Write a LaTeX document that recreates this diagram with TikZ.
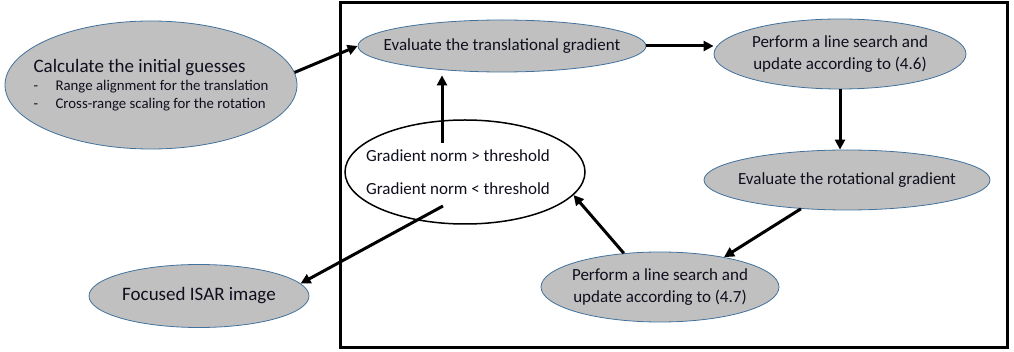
\documentclass[tikz,border=0pt]{standalone}
\usepackage{fontspec}
\setmainfont{Carlito}
\usetikzlibrary{shapes.geometric,arrows.meta}
\definecolor{fillgray}{RGB}{192,192,192}
\definecolor{edgeblue}{RGB}{65,113,156}
\definecolor{txt}{RGB}{15,15,30}
\begin{document}
\begin{tikzpicture}[x=1pt,y=-1pt,
  gnode/.style={ellipse, draw=edgeblue, line width=0.8pt, fill=fillgray,
    inner xsep=-40pt, inner ysep=0pt, text=txt, align=center,
    font=\fontsize{17}{22}\selectfont},
  wnode/.style={ellipse, draw=black, line width=1.5pt, fill=white,
    inner xsep=-40pt, inner ysep=0pt, text=txt, align=left,
    font=\fontsize{17}{22}\selectfont},
  arr/.style={line width=3pt, -{Triangle[length=10pt,width=10pt]}},
  frame/.style={line width=3pt}
]
\useasboundingbox (0,0) rectangle (1014,352);
\draw[frame] (340,3) rectangle (1007,347);

\node[gnode, minimum width=292pt, minimum height=128pt, align=left,
      font=\fontsize{14.8}{18}\selectfont] (init) at (151,85)
  {{\fontsize{19}{22}\selectfont Calculate the initial guesses}\\
   \makebox[22pt][l]{-}Range alignment for the translation\\
   \makebox[22pt][l]{-}Cross-range scaling for the rotation};
\node[gnode, minimum width=288pt, minimum height=52pt] (trans) at (502,46)
  {Evaluate the translational gradient};
\node[gnode, minimum width=252pt, minimum height=70pt] (ls46) at (840,54)
  {Perform a line search and\\update according to (4.6)};
\node[gnode, minimum width=286pt, minimum height=60pt] (rot) at (847,180)
  {Evaluate the rotational gradient};
\node[gnode, minimum width=238pt, minimum height=70pt] (ls47) at (660,287)
  {Perform a line search and\\update according to (4.7)};
\node[gnode, minimum width=220pt, minimum height=63pt,
      font=\fontsize{19}{22}\selectfont] (isar) at (199,296)
  {Focused ISAR image};
\node[wnode, minimum width=240pt, minimum height=104pt] (norm) at (465,172)
  {Gradient norm > threshold\hspace*{14pt}\\[11pt]Gradient norm < threshold\hspace*{14pt}};

\coordinate (upT) at (442,143);
\coordinate (dnT) at (443,206);

\draw[arr] (init.5) -- (trans.west);
\draw[arr] (trans.east) -- (trans.east -| ls46.west);
\draw[arr] (ls46.south) -- (ls46.south |- rot.north);
\draw[arr] (rot.212) -- (ls47.25);
\draw[arr] (ls47.137) -- (norm.-12);
\draw[arr, shorten >=3pt] (upT) -- (upT |- trans.south);
\draw[arr] (dnT) -- (isar.7);
\end{tikzpicture}
\end{document}
